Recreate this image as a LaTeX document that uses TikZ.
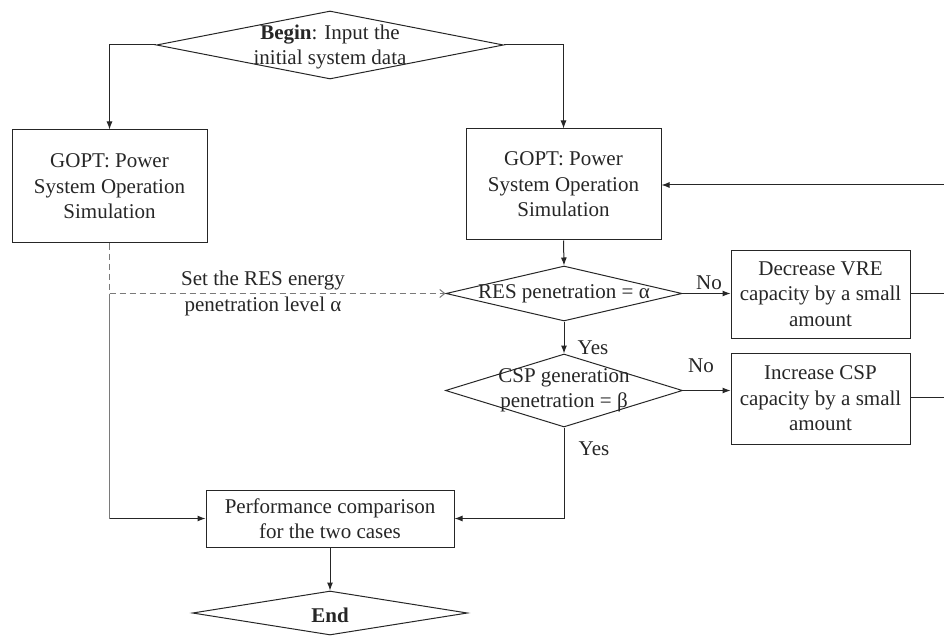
\documentclass[tikz,border=0pt]{standalone}
\usepackage{fontspec}
\setmainfont{Liberation Serif}
\usetikzlibrary{shapes.geometric,arrows.meta,calc}
\definecolor{ink}{HTML}{262626}
\definecolor{greyline}{HTML}{7A7A7A}
\tikzset{
  every node/.style={text=ink},
  base/.style={draw=ink, line width=1pt, inner sep=0pt, font=\fontsize{21}{25.5}\selectfont, align=center},
  procbox/.style={base, rectangle},
  decbox/.style={base, diamond},
  lbl/.style={font=\fontsize{21}{25.5}\selectfont, align=center, inner sep=0pt},
  conn/.style={draw=ink, line width=1pt, -{Latex[length=8pt,width=6pt]}},
  plain/.style={draw=ink, line width=1pt},
  dashline/.style={draw=greyline, line width=1pt, dash pattern=on 6pt off 4pt},
}
\begin{document}
\begin{tikzpicture}[x=1pt,y=-1pt]
\useasboundingbox (0,0) rectangle (944,636);
% nodes
\node[decbox, minimum width=347pt, minimum height=68pt] (begin) at (330,45) {};
\node[lbl] at (330,47) {\textbf{Begin}: Input the\\initial system data};
\node[procbox, minimum width=195pt, minimum height=113pt] (g1) at (109.5,186.5) {GOPT: Power\\System Operation\\Simulation};
\node[procbox, minimum width=195pt, minimum height=111pt] (g2) at (563.5,184.5) {GOPT: Power\\System Operation\\Simulation};
\node[decbox, minimum width=236pt, minimum height=55pt] (d1) at (564,293.5) {};
\node[lbl] at (d1) {RES penetration = α};
\node[decbox, minimum width=237pt, minimum height=73pt] (d2) at (564,390.5) {};
\node[lbl] at (d2) {CSP generation\\penetration = β};
\node[procbox, minimum width=179pt, minimum height=88pt] (dec) at (820.5,294) {Decrease VRE\\capacity by a small\\amount};
\node[procbox, minimum width=179pt, minimum height=91pt] (inc) at (820.5,398.5) {Increase CSP\\capacity by a small\\amount};
\node[procbox, minimum width=248pt, minimum height=57pt] (perf) at (330,518.5) {Performance comparison\\for the two cases};
\node[decbox, minimum width=275pt, minimum height=44pt] (end) at (330,613) {};
\node[lbl] at (330,615) {\textbf{End}};
% coordinates
\coordinate (fbA) at (944,185);
\coordinate (fbB) at (944,293.5);
\coordinate (fbC) at (944,397);
\coordinate (dj) at (g1.south |- d1.west);
\coordinate (pj) at (g1.south |- perf.west);
\coordinate (yj) at (d2.south |- perf.east);
% connectors
\draw[conn] (begin.west) -| (g1.north);
\draw[conn] (begin.east) -| (g2.north);
\draw[conn] (fbA) -- (fbA -| g2.east);
\draw[plain] (dec.east |- fbB) -- (fbB);
\draw[plain] (inc.east |- fbC) -- (fbC);
\draw[conn] (g2.south) -- (d1.north);
\draw[conn] (d1.east) -- (dec.west |- d1.east);
\node[lbl] at (709,283) {No};
\draw[conn] (d1.south) -- (d2.north);
\node[lbl] at (593,348) {Yes};
\draw[conn] (d2.east) -- (inc.west |- d2.east);
\node[lbl] at (701,366) {No};
\draw[plain] (d2.south) -- (yj);
\draw[conn] (yj) -- (perf.east);
\node[lbl] at (594,449) {Yes};
\draw[dashline] (g1.south) -- (dj);
\draw[dashline, -{Straight Barb[length=5pt,width=8pt]}] (dj) -- (d1.west);
\node[lbl] at (263,293.5) {Set the RES energy\\penetration level α};
\draw[draw=greyline, line width=1pt] (dj) -- (pj);
\draw[conn] (pj) -- (perf.west);
\draw[conn] (perf.south) -- (end.north);
\end{tikzpicture}
\end{document}
